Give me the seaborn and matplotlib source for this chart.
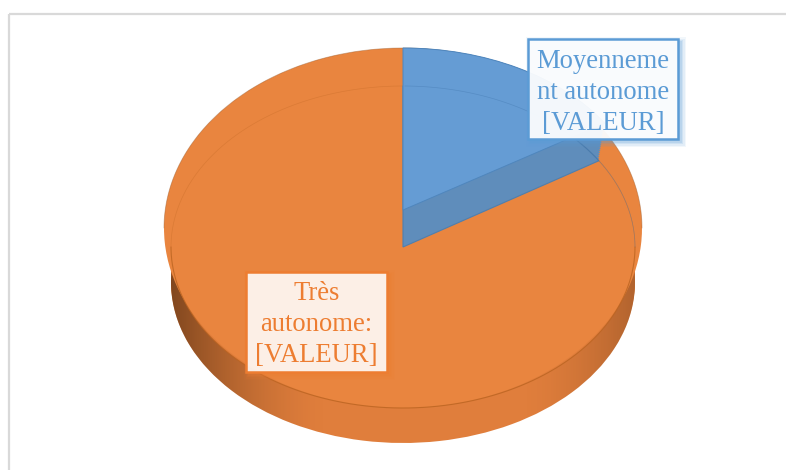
import numpy as np
import seaborn as sns
import matplotlib.pyplot as plt
from matplotlib.patches import Rectangle, Polygon
from matplotlib.transforms import Affine2D

# Chart data
labels = ["Moyennement autonome", "Très autonome"]
shares = [16, 84]
box_texts = [["Moyenneme", "nt autonome", "[VALEUR]"], ["Très", "autonome:", "[VALEUR]"]]

blue, orange = sns.color_palette(["#659CD4", "#E9853F"])
blue_side = "#5F8DBB"
orange_wall = "#E07E3C"
blue_text = "#5B9BD5"
orange_text = "#ED7D31"

sns.set_theme(style="white")
plt.rcParams["font.family"] = ["Liberation Serif", "DejaVu Serif"]

fig = plt.figure(figsize=(7.86, 4.7), dpi=100)
ax = fig.add_axes([0, 0, 1, 1])


# One pie layer, placed in pixel coordinates, squashed into an ellipse
def pie_layer(cx, cy, rx, ry, colors, edge="none", lw=0):
    wedges, _ = ax.pie(shares, startangle=90, counterclock=False, colors=colors,
                       radius=1, center=(cx, cy),
                       wedgeprops={"linewidth": lw, "edgecolor": edge})
    for w in wedges:
        w.set_transform(Affine2D().translate(-cx, -cy).scale(rx, -ry).translate(cx, cy) + ax.transData)
    return wedges


# wall of the disc, from the lower ellipse up
for cy in np.linspace(282, 247, 18):
    pie_layer(403, cy, 232, 161, [orange_wall, orange_wall])

# dark shading on both ends of the wall
t = np.linspace(0, 2 * np.pi, 300)
clip = Polygon(np.column_stack([
    np.r_[403 + 232 * np.cos(t), 403 + 232 * np.cos(t)[::-1]],
    np.r_[282 + 161 * np.sin(t), 247 + 161 * np.sin(t)[::-1]]]),
    closed=True, transform=ax.transData, facecolor="none", edgecolor="none")
ax.add_patch(clip)
for x0, x1, strength in [(168, 330, 0.7), (640, 520, 0.35)]:
    ramp = np.zeros((1, 256, 4))
    ramp[0, :, 0:3] = np.array([0.33, 0.18, 0.07])
    ramp[0, :, 3] = (1 - np.linspace(0, 1, 256)) ** 1.6 * strength
    img = ax.imshow(ramp, extent=(x0, x1, 470, 0), aspect="auto", zorder=1.5)
    img.set_clip_path(clip)

# top surface
top = pie_layer(403, 228, 239, 180, [orange, orange])
for w in top:
    w.set_zorder(2)

# blue slice: side face then raised face
for cy, rx, ry in zip(np.linspace(247, 210, 20), np.linspace(232, 239, 20), np.linspace(161, 162, 20)):
    side = pie_layer(403, cy, rx, ry, [blue_side, "none"])
    side[0].set_zorder(2.1)
    side[1].set_visible(False)
face = pie_layer(403, 210, 239, 162, [blue, "none"], edge="#4F86BD", lw=0.7)
face[0].set_zorder(2.2)
face[1].set_visible(False)
low = pie_layer(403, 247, 232, 161, [blue, "none"], edge="#4F7FAE", lw=0.8)
low[0].set_fill(False)
low[0].set_zorder(2.15)
low[1].set_visible(False)

# inner rim, faint on top and stronger at the front
t1 = np.linspace(0, np.pi, 200)
ax.plot(403 + 232 * np.cos(t1), 247 + 161 * np.sin(t1), color="#B8621F", lw=0.8, alpha=0.75, zorder=2.05)
ax.plot(403 + 232 * np.cos(t1), 247 - 161 * np.sin(t1), color="#B8621F", lw=0.5, alpha=0.3, zorder=2.05)
ax.plot(403 + 232 * np.cos(t1[:100]), 247 - 161 * np.sin(t1[:100]), color="#3F74AB", lw=0.5, alpha=0.4, zorder=2.3)
# thin dark outline of the top surface
ax.plot(403 + 239 * np.cos(t1), 228 - 180 * np.sin(t1), color="#9A5A2A", lw=0.6, alpha=0.45, zorder=2.05)

ax.set_aspect("auto")
ax.set_xlim(0, 786)
ax.set_ylim(470, 0)
ax.axis("off")

# chart frame, only top and left edges are in view
ax.add_patch(Rectangle((9, 14), 900, 600, facecolor="none", edgecolor="#D9D9D9", lw=1.6, zorder=0.5))

# data label boxes, each line placed on its own baseline
boxes = [(528, 39, 150, 100, blue_text, 603, 68, 0.93),
         (246, 272, 141, 100, orange_text, 316.5, 300, 0.88)]
for lines, (x, y, w, h, col, tx, base, fill_alpha) in zip(box_texts, boxes):
    for grow, a in zip([10, 7, 4, 2], [0.08, 0.1, 0.14, 0.18]):
        ax.add_patch(Rectangle((x + 3 - grow / 2, y + 3 - grow / 2), w + grow, h + grow,
                               facecolor=col, edgecolor="none", alpha=a, zorder=3))
    ax.add_patch(Rectangle((x, y), w, h, facecolor="white", edgecolor="none", alpha=fill_alpha, zorder=4))
    ax.add_patch(Rectangle((x, y), w, h, facecolor="none", edgecolor=col, lw=1.8, zorder=4.1))
    for i, line in enumerate(lines):
        ax.text(tx, base + i * 31, line, color=col, fontsize=19.2, ha="center", va="baseline", zorder=5)

fig.savefig("out.png", dpi=100)
